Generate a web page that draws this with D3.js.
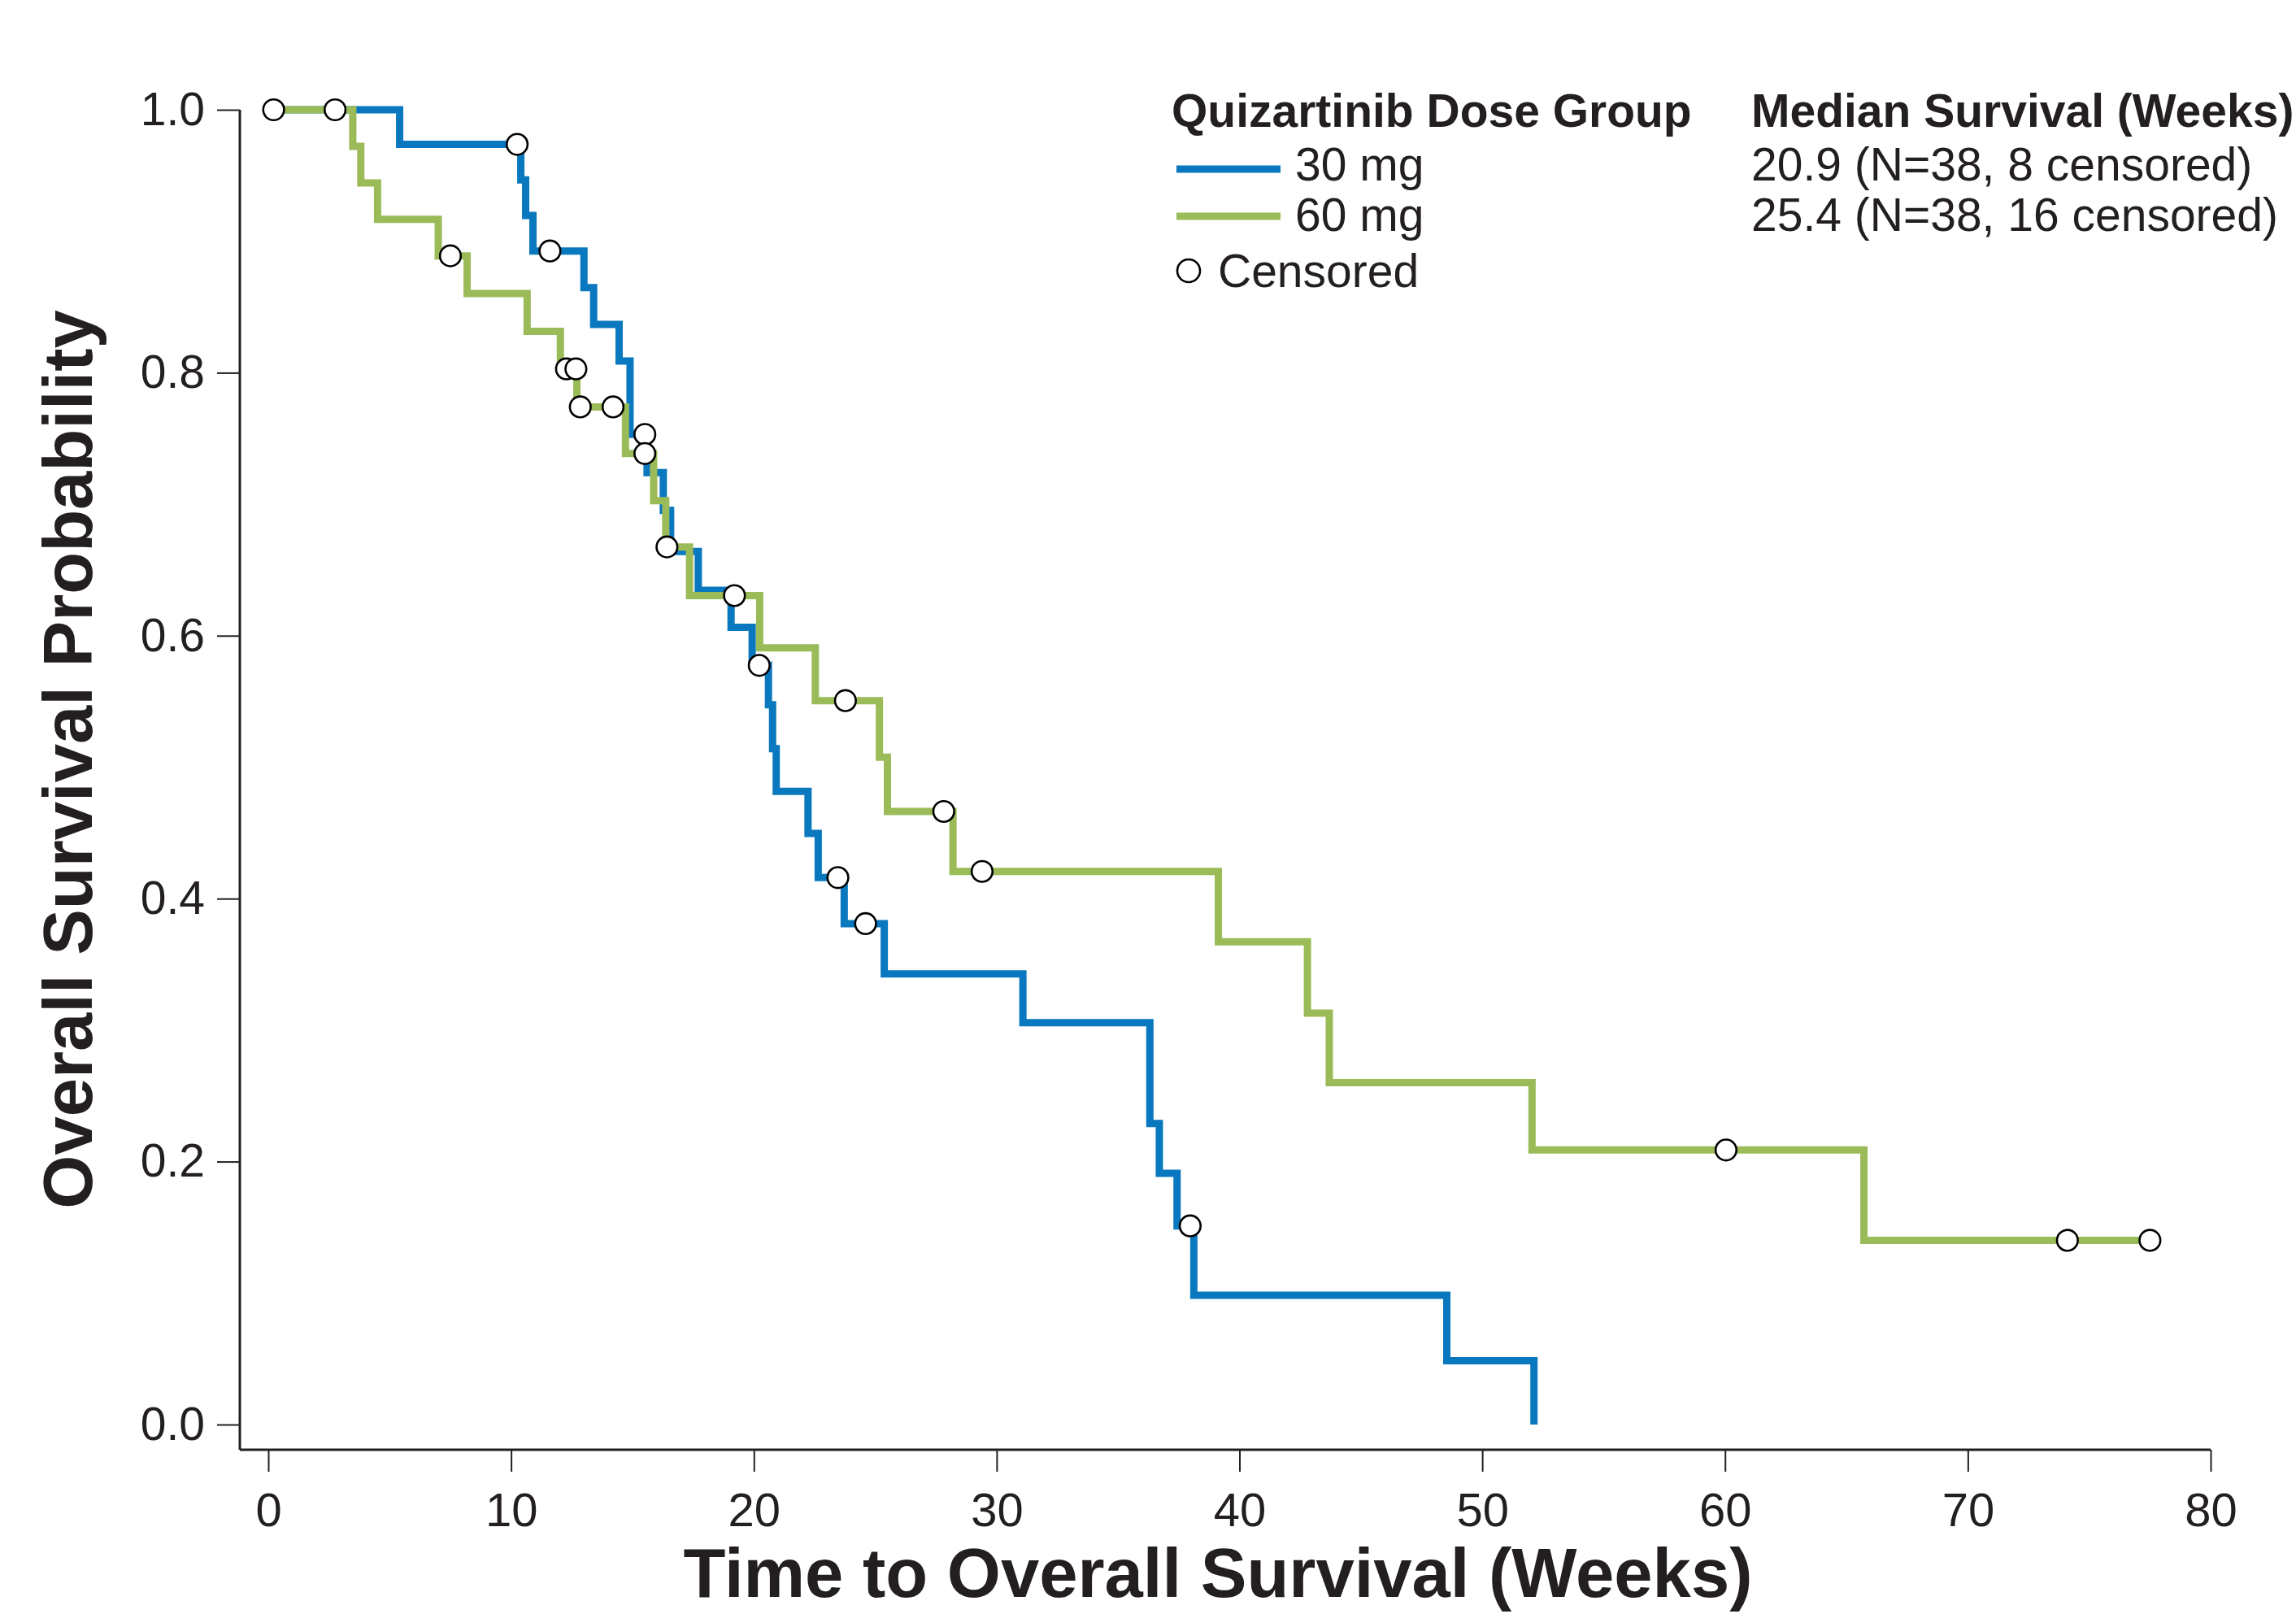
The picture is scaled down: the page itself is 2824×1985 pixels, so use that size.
<!DOCTYPE html>
<html>
<head>
<meta charset="utf-8">
<script src="https://cdn.jsdelivr.net/npm/d3@7"></script>
<style>
  html, body { margin: 0; padding: 0; background: #fff; }
  svg text { font-family: "Liberation Sans", Arial, Helvetica, sans-serif; fill: #231f20; }
</style>
</head>
<body>
<div id="chart"></div>
<script>
// Axis ticks
const timeTicks = [0, 10, 20, 30, 40, 50, 60, 70, 80];
const probTicks = [0, 0.2, 0.4, 0.6, 0.8, 1.0];

// 30 mg group - step times (weeks) and survival after each step
const dose30Times = [0, 5.41, 10.4, 10.6, 10.9, 13.0, 13.4, 14.45, 14.9, 15.6, 16.27, 16.57, 17.71, 19.06, 19.93, 20.6, 20.77, 20.92, 22.23, 22.65, 23.72, 25.37, 31.08, 36.31, 36.7, 37.43, 38.12, 48.54, 52.13];
const dose30Surv  = [1.0, 0.9737, 0.9466, 0.9196, 0.8926, 0.8647, 0.8368, 0.8089, 0.7531, 0.7241, 0.6952, 0.664, 0.6345, 0.6063, 0.5774, 0.5475, 0.5141, 0.4816, 0.4496, 0.416, 0.381, 0.3428, 0.3057, 0.229, 0.1911, 0.1511, 0.0984, 0.0485, 0.0];
const dose30CensTimes = [10.25, 11.6, 15.51, 20.22, 23.46, 24.6, 37.97];
const dose30CensSurv  = [0.9737, 0.8926, 0.7531, 0.5774, 0.416, 0.381, 0.1511];

// 60 mg group
const dose60Times = [0, 3.48, 3.81, 4.5, 7.0, 8.19, 10.66, 12.03, 12.71, 14.71, 15.87, 16.37, 17.35, 20.24, 22.53, 25.17, 25.5, 28.2, 39.13, 42.8, 43.7, 52.05, 65.72, 77.5];
const dose60Surv  = [1.0, 0.9722, 0.9444, 0.9167, 0.8889, 0.8602, 0.8315, 0.8029, 0.774, 0.7385, 0.7027, 0.6675, 0.6305, 0.5908, 0.5506, 0.5075, 0.4663, 0.4207, 0.3672, 0.3129, 0.26, 0.2088, 0.1401, 0.1401];
const dose60CensTimes = [0.22, 2.75, 7.5, 12.28, 12.67, 12.85, 14.2, 15.51, 16.42, 19.2, 23.77, 27.82, 29.4, 60.04, 74.1, 77.5];
const dose60CensSurv  = [1.0, 1.0, 0.8889, 0.8029, 0.8029, 0.774, 0.774, 0.7385, 0.6675, 0.6305, 0.5506, 0.4663, 0.4207, 0.2088, 0.1401, 0.1401];

// Legend texts
const groupTitle = 'Quizartinib Dose Group';
const groupLabels = ['30 mg', '60 mg'];
const medianTitle = 'Median Survival (Weeks)';
const medianLabels = ['20.9 (N=38, 8 censored)', '25.4 (N=38, 16 censored)'];
const censoredLabel = 'Censored';

const BLUE = '#0a78be';
const GREEN = '#9bbb59';
const INK = '#231f20';

const W = 2824, H = 1985;

const svg = d3.select('#chart')
    .append('svg')
    .attr('width', W)
    .attr('height', H);

svg.append('rect').attr('width', W).attr('height', H).attr('fill', '#fff');

// Scales
const x = d3.scaleLinear().domain([0, 80]).range([330, 2719]);
const y = d3.scaleLinear().domain([0, 1]).range([1752, 135]);

const axisX = 295;   // y-axis line sits left of time 0
const axisY = 1783;  // x-axis line sits below survival 0

// X axis
const gx = svg.append('g')
    .attr('transform', `translate(0,${axisY})`)
    .call(d3.axisBottom(x)
        .tickValues(timeTicks)
        .tickSize(27)
        .tickPadding(26)
        .tickFormat(d3.format('d')));
gx.select('.domain').remove();
gx.selectAll('.tick line').attr('stroke', INK).attr('stroke-width', 2);
gx.selectAll('.tick text').attr('font-size', 58).attr('fill', INK);

// Y axis
const gy = svg.append('g')
    .attr('transform', `translate(${axisX},0)`)
    .call(d3.axisLeft(y)
        .tickValues(probTicks)
        .tickSize(28)
        .tickPadding(15)
        .tickFormat(d3.format('.1f')));
gy.select('.domain').remove();
gy.selectAll('.tick line').attr('stroke', INK).attr('stroke-width', 2);
gy.selectAll('.tick text').attr('font-size', 57).attr('fill', INK);

// Axis lines (open frame)
svg.append('line')
    .attr('x1', axisX).attr('x2', x(80))
    .attr('y1', axisY).attr('y2', axisY)
    .attr('stroke', INK).attr('stroke-width', 3);
svg.append('line')
    .attr('x1', axisX).attr('x2', axisX)
    .attr('y1', y(1)).attr('y2', axisY)
    .attr('stroke', INK).attr('stroke-width', 3);

// Axis titles
svg.append('text')
    .attr('x', 1498)
    .attr('y', 1964)
    .attr('text-anchor', 'middle')
    .attr('font-size', 85)
    .attr('font-weight', 'bold')
    .text('Time to Overall Survival (Weeks)');

svg.append('text')
    .attr('transform', 'translate(113,934) rotate(-90)')
    .attr('text-anchor', 'middle')
    .attr('font-size', 85)
    .attr('font-weight', 'bold')
    .text('Overall Survival Probability');

// Step curves
const line = d3.line()
    .x(d => x(d[0]))
    .y(d => y(d[1]))
    .curve(d3.curveStepAfter);

const series = [
    { times: dose30Times, surv: dose30Surv, color: BLUE },
    { times: dose60Times, surv: dose60Surv, color: GREEN }
];

series.forEach(s => {
    svg.append('path')
        .datum(d3.zip(s.times, s.surv))
        .attr('fill', 'none')
        .attr('stroke', s.color)
        .attr('stroke-width', 9)
        .attr('stroke-linejoin', 'miter')
        .attr('stroke-linecap', 'butt')
        .attr('d', line);
});

// Censored markers
const censored = d3.zip(dose30CensTimes, dose30CensSurv)
    .concat(d3.zip(dose60CensTimes, dose60CensSurv));

svg.selectAll('.cens')
    .data(censored)
    .enter()
    .append('circle')
    .attr('class', 'cens')
    .attr('cx', d => x(d[0]))
    .attr('cy', d => y(d[1]))
    .attr('r', 12.8)
    .attr('fill', '#fff')
    .attr('stroke', '#000')
    .attr('stroke-width', 2.6);

// Legend
const legend = svg.append('g');

legend.append('text')
    .attr('x', 1441).attr('y', 156)
    .attr('font-size', 57).attr('font-weight', 'bold')
    .text(groupTitle);

legend.append('text')
    .attr('x', 2154).attr('y', 156)
    .attr('font-size', 57).attr('font-weight', 'bold')
    .text(medianTitle);

const rowY = [222, 284];
const rowLineY = [208, 266];
const rowColors = [BLUE, GREEN];

groupLabels.forEach((label, i) => {
    legend.append('line')
        .attr('x1', 1447).attr('x2', 1575)
        .attr('y1', rowLineY[i]).attr('y2', rowLineY[i])
        .attr('stroke', rowColors[i])
        .attr('stroke-width', 9);
    legend.append('text')
        .attr('x', 1593).attr('y', rowY[i])
        .attr('font-size', 57)
        .text(label);
    legend.append('text')
        .attr('x', 2154).attr('y', rowY[i])
        .attr('font-size', 57)
        .text(medianLabels[i]);
});

legend.append('circle')
    .attr('cx', 1462).attr('cy', 333)
    .attr('r', 14)
    .attr('fill', '#fff')
    .attr('stroke', '#000')
    .attr('stroke-width', 2.6);

legend.append('text')
    .attr('x', 1498).attr('y', 353)
    .attr('font-size', 57)
    .text(censoredLabel);
</script>
</body>
</html>
